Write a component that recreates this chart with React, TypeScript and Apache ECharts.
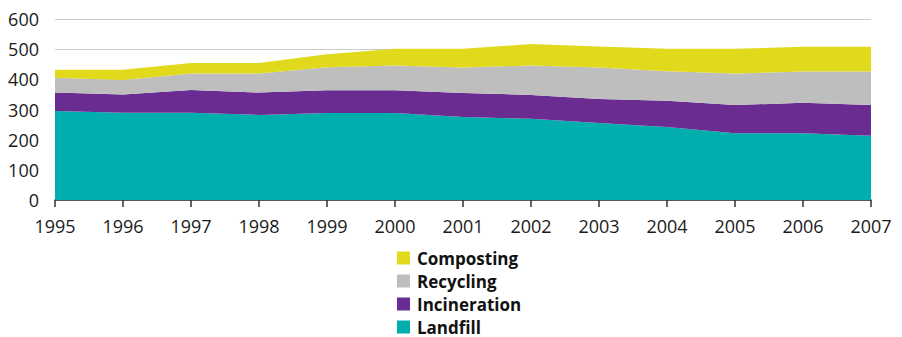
import React, { useEffect, useRef } from "react";
import * as echarts from "echarts";

const years = ["1995","1996","1997","1998","1999","2000","2001","2002","2003","2004","2005","2006","2007"];
const landfill = [295, 289, 289, 282, 288, 288, 275, 269, 255, 242, 221, 221, 213];
const incineration = [61, 61, 76, 74, 76, 76, 80, 79, 80, 87, 94, 101, 102];
const recycling = [49, 48, 54, 63, 76, 82, 84, 98, 104, 98, 104, 104, 111];
const composting = [27, 34, 35, 35, 43, 55, 62, 71, 70, 74, 82, 82, 82];
const legendOrder = ["Composting", "Recycling", "Incineration", "Landfill"];

const FONT = "'Open Sans', 'Noto Sans', sans-serif";

export default function App() {
  const ref = useRef<HTMLDivElement>(null);
  useEffect(() => {
    if (!ref.current) return;
    const chart = echarts.init(ref.current, undefined, { renderer: "svg" });
    const mk = (name: string, data: number[], color: string) => ({
      name,
      type: "line",
      stack: "total",
      data,
      symbol: "none",
      lineStyle: { width: 0 },
      itemStyle: { color },
      areaStyle: { color, opacity: 1 },
    });
    chart.setOption({
      animation: false,
      grid: { left: 55, right: 31, top: 19, bottom: 137 },
      legend: {
        orient: "vertical",
        left: 397,
        top: 249,
        height: 120,
        padding: 0,
        itemWidth: 13,
        itemHeight: 13,
        itemGap: 5,
        icon: "rect",
        data: legendOrder,
        textStyle: {
          fontFamily: FONT,
          fontWeight: "bold",
          fontSize: 17,
          lineHeight: 18,
          color: "#111",
          padding: [0, 0, 0, 2],
        },
      },
      xAxis: {
        type: "category",
        data: years,
        boundaryGap: false,
        axisLine: { lineStyle: { color: "#333", width: 1.5 } },
        axisTick: { length: 7, lineStyle: { color: "#333", width: 1.5 } },
        axisLabel: { fontFamily: FONT, fontSize: 18, color: "#1a1a1a", margin: 17 },
        splitLine: { show: false },
      },
      yAxis: {
        type: "value",
        min: 0,
        max: 600,
        interval: 100,
        axisLine: { show: false },
        axisTick: { show: false },
        axisLabel: { fontFamily: FONT, fontSize: 18, color: "#1a1a1a", margin: 16 },
        splitLine: { lineStyle: { color: "#cccccc", width: 1 } },
      },
      series: [
        mk("Landfill", landfill, "#00aeae"),
        mk("Incineration", incineration, "#6a2c91"),
        mk("Recycling", recycling, "#bebebe"),
        mk("Composting", composting, "#e1da1c"),
      ],
    });
    return () => chart.dispose();
  }, []);
  return (
    <div
      ref={ref}
      style={{ position: "absolute", left: 0, top: 0, width: 902, height: 337, background: "#fff" }}
    />
  );
}
